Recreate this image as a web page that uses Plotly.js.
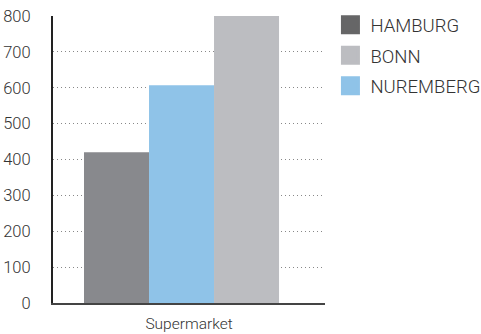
<!DOCTYPE html>
<html><head><meta charset="utf-8">
<script src="https://cdn.plot.ly/plotly-3.0.1.min.js"></script>
<style>html,body{margin:0;padding:0;background:#fff}</style>
</head><body><div id="chart" style="width:481px;height:334px"></div>
<script>
var categories = ['Supermarket'];
var cities = ['HAMBURG', 'NUREMBERG', 'BONN'];
var hamburg = [420];
var nuremberg = [607];
var bonn = [800];
var barColors = ['#88898d', '#8fc3e8', '#bcbdc1'];
var legendNames = ['HAMBURG', 'BONN', 'NUREMBERG'];
var legendColors = ['#666667', '#bcbdc1', '#8fc3e8'];
var yTicks = [0, 100, 200, 300, 400, 500, 600, 700, 800];

var series = [hamburg, nuremberg, bonn];
var offsets = [-0.386, -0.147, 0.092];
var traces = [];
for (var i = 0; i < cities.length; i++) {
  traces.push({type: 'bar', x: categories, y: series[i], name: cities[i],
    marker: {color: barColors[i], line: {width: 0}}, width: 0.239, offset: offsets[i],
    showlegend: false, hoverinfo: 'none'});
}
for (var j = 0; j < legendNames.length; j++) {
  traces.push({type: 'scatter', mode: 'markers', x: [null], y: [null], xaxis: 'x2', yaxis: 'y2',
    name: legendNames[j], legendgroup: 'g' + j,
    marker: {symbol: 'square', size: 16, color: legendColors[j], line: {width: 3, color: legendColors[j]}},
    showlegend: true});
}
var fam = 'Roboto, "Open Sans", sans-serif';
var layout = {
  width: 481, height: 334,
  margin: {l: 53, r: 156, t: 16, b: 31, autoexpand: false},
  paper_bgcolor: '#fff', plot_bgcolor: '#fff',
  font: {family: fam, color: '#333', weight: 300},
  barmode: 'group',
  showlegend: true,
  xaxis: {type: 'category', showgrid: false, showline: true, linecolor: '#444', linewidth: 2,
    ticks: '', ticklabelstandoff: 5,
    tickfont: {size: 15.5, family: fam, color: '#333', weight: 300}, zeroline: false, fixedrange: true},
  yaxis: {range: [0, 800], tickvals: yTicks, showgrid: true, gridcolor: '#888', griddash: '1px,3px', gridwidth: 1,
    showline: true, linecolor: '#222', linewidth: 2, zeroline: false, ticks: '',
    ticklabelstandoff: 17,
    tickfont: {size: 16.5, family: fam, color: '#333', weight: 300}},
  xaxis2: {overlaying: 'x', visible: false},
  yaxis2: {overlaying: 'y', visible: false},
  legend: {x: 1.02, xanchor: 'left', y: 1.034, yanchor: 'top', traceorder: 'grouped',
    font: {size: 18.5, family: fam, color: '#333', weight: 300}, itemsizing: 'trace', tracegroupgap: 3.5}
};
Plotly.newPlot('chart', traces, layout, {displayModeBar: false, staticPlot: true});
</script></body></html>
